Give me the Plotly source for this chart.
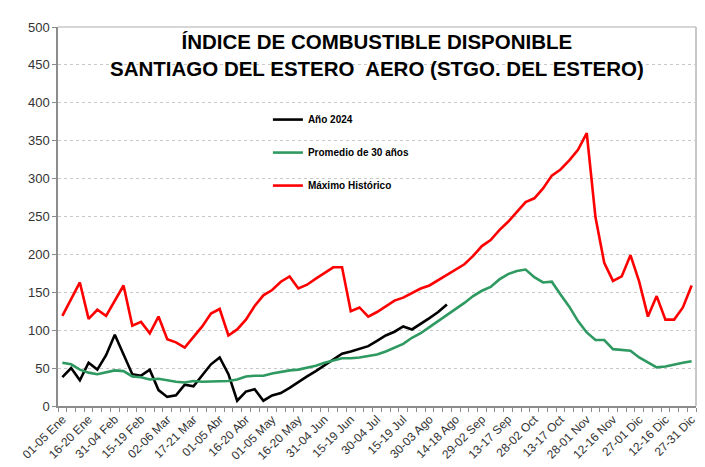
import plotly.graph_objects as go

# --- data: 73 pentads (5-day periods) of the year ---
periods = [
    "01-05 Ene", "06-10 Ene", "11-15 Ene", "16-20 Ene", "21-25 Ene", "26-30 Ene",
    "31-04 Feb", "05-09 Feb", "10-14 Feb", "15-19 Feb", "20-24 Feb", "25-01 Mar",
    "02-06 Mar", "07-11 Mar", "12-16 Mar", "17-21 Mar", "22-26 Mar", "27-31 Mar",
    "01-05 Abr", "06-10 Abr", "11-15 Abr", "16-20 Abr", "21-25 Abr", "26-30 Abr",
    "01-05 May", "06-10 May", "11-15 May", "16-20 May", "21-25 May", "26-30 May",
    "31-04 Jun", "05-09 Jun", "10-14 Jun", "15-19 Jun", "20-24 Jun", "25-29 Jun",
    "30-04 Jul", "05-09 Jul", "10-14 Jul", "15-19 Jul", "20-24 Jul", "25-29 Jul",
    "30-03 Ago", "04-08 Ago", "09-13 Ago", "14-18 Ago", "19-23 Ago", "24-28 Ago",
    "29-02 Sep", "03-07 Sep", "08-12 Sep", "13-17 Sep", "18-22 Sep", "23-27 Sep",
    "28-02 Oct", "03-07 Oct", "08-12 Oct", "13-17 Oct", "18-22 Oct", "23-27 Oct",
    "28-01 Nov", "02-06 Nov", "07-11 Nov", "12-16 Nov", "17-21 Nov", "22-26 Nov",
    "27-01 Dic", "02-06 Dic", "07-11 Dic", "12-16 Dic", "17-21 Dic", "22-26 Dic",
    "27-31 Dic",
]

anio_2024 = [
    38, 50, 34, 57, 48, 67, 94, 68, 42, 40, 48, 21, 12, 14, 28, 26, 40, 55, 64,
    42, 7, 19, 22, 7, 14, 17, 24, 32, 39, 46, 54, 62, 69, 72, 76, 79, 86, 93,
    98, 105, 101, 108, 116, 124, 134,
]

promedio_30 = [
    57, 55, 48, 44, 42, 45, 47, 46, 39, 38, 35, 36, 34, 32, 31, 33, 32, 32, 32,
    33, 35, 39, 40, 40, 43, 45, 47, 48, 50, 53, 57, 60, 63, 63, 64, 66, 68, 72,
    77, 82, 90, 96, 104, 112, 119, 127, 136, 145, 152, 157, 167, 174, 178, 180,
    170, 163, 164, 147, 131, 112, 97, 87, 87, 75, 74, 73, 64, 57, 51, 52, 55,
    57, 59,
]

maximo_hist = [
    119, 141, 163, 115, 127, 119, 140, 159, 106, 111, 96, 118, 88, 84, 77, 91,
    105, 122, 128, 93, 101, 114, 132, 146, 153, 164, 171, 155, 160, 168, 176,
    183, 183, 125, 130, 118, 124, 132, 139, 143, 149, 155, 159, 166, 173, 179,
    187, 198, 211, 219, 232, 243, 256, 269, 274, 287, 304, 312, 324, 338, 360,
    249, 189, 165, 171, 199, 164, 118, 145, 114, 114, 130, 159,
]

tick_idx = list(range(0, len(periods), 3))
tick_text = [periods[i] for i in tick_idx]

x_all = list(range(len(periods)))

fig = go.Figure()

fig.add_trace(go.Scatter(
    x=x_all[:len(anio_2024)], y=anio_2024, name="Año 2024", mode="lines",
    line=dict(color="#000000", width=2.6), legendgroup="a",
))
fig.add_trace(go.Scatter(
    x=x_all, y=promedio_30, name="Promedio de 30 años", mode="lines",
    line=dict(color="#2e9960", width=2.6), legendgroup="b",
))
fig.add_trace(go.Scatter(
    x=x_all, y=maximo_hist, name="Máximo Histórico", mode="lines",
    line=dict(color="#ff0000", width=2.6), legendgroup="c",
))

# white box behind the legend hides the gridlines, like the original
fig.add_shape(
    type="rect", xref="paper", yref="paper",
    x0=0.309, x1=0.635, y0=0.516, y1=0.786,
    fillcolor="white", line=dict(width=0), layer="between",
)

fig.add_annotation(
    text="<b>ÍNDICE DE COMBUSTIBLE DISPONIBLE<br>SANTIAGO DEL ESTERO  AERO (STGO. DEL ESTERO)</b>",
    xref="paper", yref="paper", x=0.5, y=0.926, xanchor="center", yanchor="middle",
    showarrow=False, font=dict(family="Liberation Sans, Arial", size=20.5, color="#000000"),
)

fig.update_layout(
    width=705, height=467,
    margin=dict(l=50, r=17, t=12, b=66),
    paper_bgcolor="white", plot_bgcolor="white",
    font=dict(family="Liberation Sans, Arial", size=13, color="#404040"),
    showlegend=True,
    legend=dict(
        x=0.329, y=0.794, xanchor="left", yanchor="top",
        bgcolor="rgba(0,0,0,0)", tracegroupgap=14,
        font=dict(size=10, color="#000000", family="Liberation Sans, Arial",
                  weight="bold"),
    ),
)

fig.update_xaxes(
    range=[-0.5, len(periods) - 0.5],
    tickmode="array", tickvals=tick_idx, ticktext=tick_text,
    tickangle=-45, tickfont=dict(size=12, color="#333333"),
    ticks="", showgrid=False, zeroline=False,
    showline=True, linecolor="#8c8c8c", linewidth=1.5, mirror=False,
    minor=dict(tickmode="linear", tick0=-0.5, dtick=1, ticks="outside",
               ticklen=4, tickcolor="#8c8c8c", showgrid=False),
)
fig.update_yaxes(
    range=[0, 500], dtick=50, tickfont=dict(size=13, color="#333333"),
    showgrid=True, gridcolor="#c8c8c8", griddash="dot", gridwidth=1,
    zeroline=False, showline=True, linecolor="#8c8c8c", linewidth=1.5,
    ticks="outside", ticklen=4, tickcolor="#8c8c8c",
)

# light frame on the top and right sides of the plot area
fig.add_shape(type="line", xref="paper", yref="paper", x0=0, x1=1, y0=1, y1=1,
              line=dict(color="#c8c8c8", width=1.5))
fig.add_shape(type="line", xref="paper", yref="paper", x0=1, x1=1, y0=0, y1=1,
              line=dict(color="#c8c8c8", width=2))

fig.write_html("out.html")
